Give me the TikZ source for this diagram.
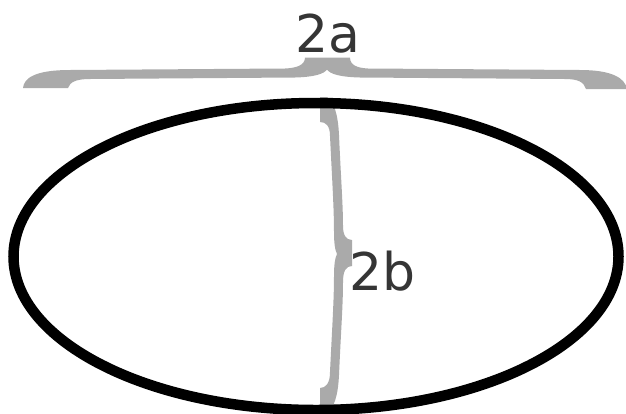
\documentclass[tikz,border=0pt]{standalone}
\usepackage{fontspec}
\setmainfont{DejaVu Sans}
\definecolor{bracegray}{HTML}{AAAAAA}
\definecolor{labelgray}{HTML}{353535}
\begin{document}
\begin{tikzpicture}[
      x=1pt, y=-1pt,
      every node/.style={inner sep=0pt, text=labelgray, font=\fontsize{52}{56}\selectfont},
      bracefill/.style={fill=bracegray, draw=none},
      outline/.style={draw=black, line width=10.5pt}
  ]
    \useasboundingbox (0,0) rectangle (626,413);
    \clip (0,0) rectangle (626,413);

    \fill[bracefill] (23,88) .. controls (24,78) and (35,70) .. (70,70) -- (285,68.5)
      .. controls (297,68) and (305,65) .. (305,57.5) -- (350,57.5)
      .. controls (350,65) and (357,68) .. (368,68.5) -- (580,70)
      .. controls (612,70) and (625,78) .. (627,89) -- (586,89)
      .. controls (584,82) and (578,79) .. (565,79) -- (360,77.5)
      .. controls (340,77) and (330,74) .. (327,69.5)
      .. controls (324,74) and (314,77) .. (295,77.5) -- (90,79)
      .. controls (76,79) and (70,82) .. (68,88) -- cycle;

    \fill[bracefill] (320,97) -- (327,97) .. controls (334,102) and (338,114) .. (339,135)
      .. controls (341,180) and (343,205) .. (343,226)
      .. controls (343,235) and (346,240) .. (352,240) -- (352,266)
      .. controls (346,266) and (343,271) .. (343,282)
      .. controls (343,305) and (341,330) .. (339,375)
      .. controls (338,396) and (334,408) .. (327,413) -- (320,413) -- (320,388)
      .. controls (326,388) and (330,383) .. (330,372)
      .. controls (332,330) and (334,300) .. (334,276)
      .. controls (334,265) and (335,258) .. (337,254)
      .. controls (335,250) and (334,243) .. (334,232)
      .. controls (334,208) and (332,178) .. (330,136)
      .. controls (330,126) and (326,122) .. (320,122) -- cycle;

    \draw[outline] (316,256.5) ellipse [x radius=302.5, y radius=153.5];

    \node[anchor=base] (lbla) at (327.5,52) {2a};
    \node[anchor=base west] (lblb) at (349,290) {2b};
  \end{tikzpicture}
\end{document}
